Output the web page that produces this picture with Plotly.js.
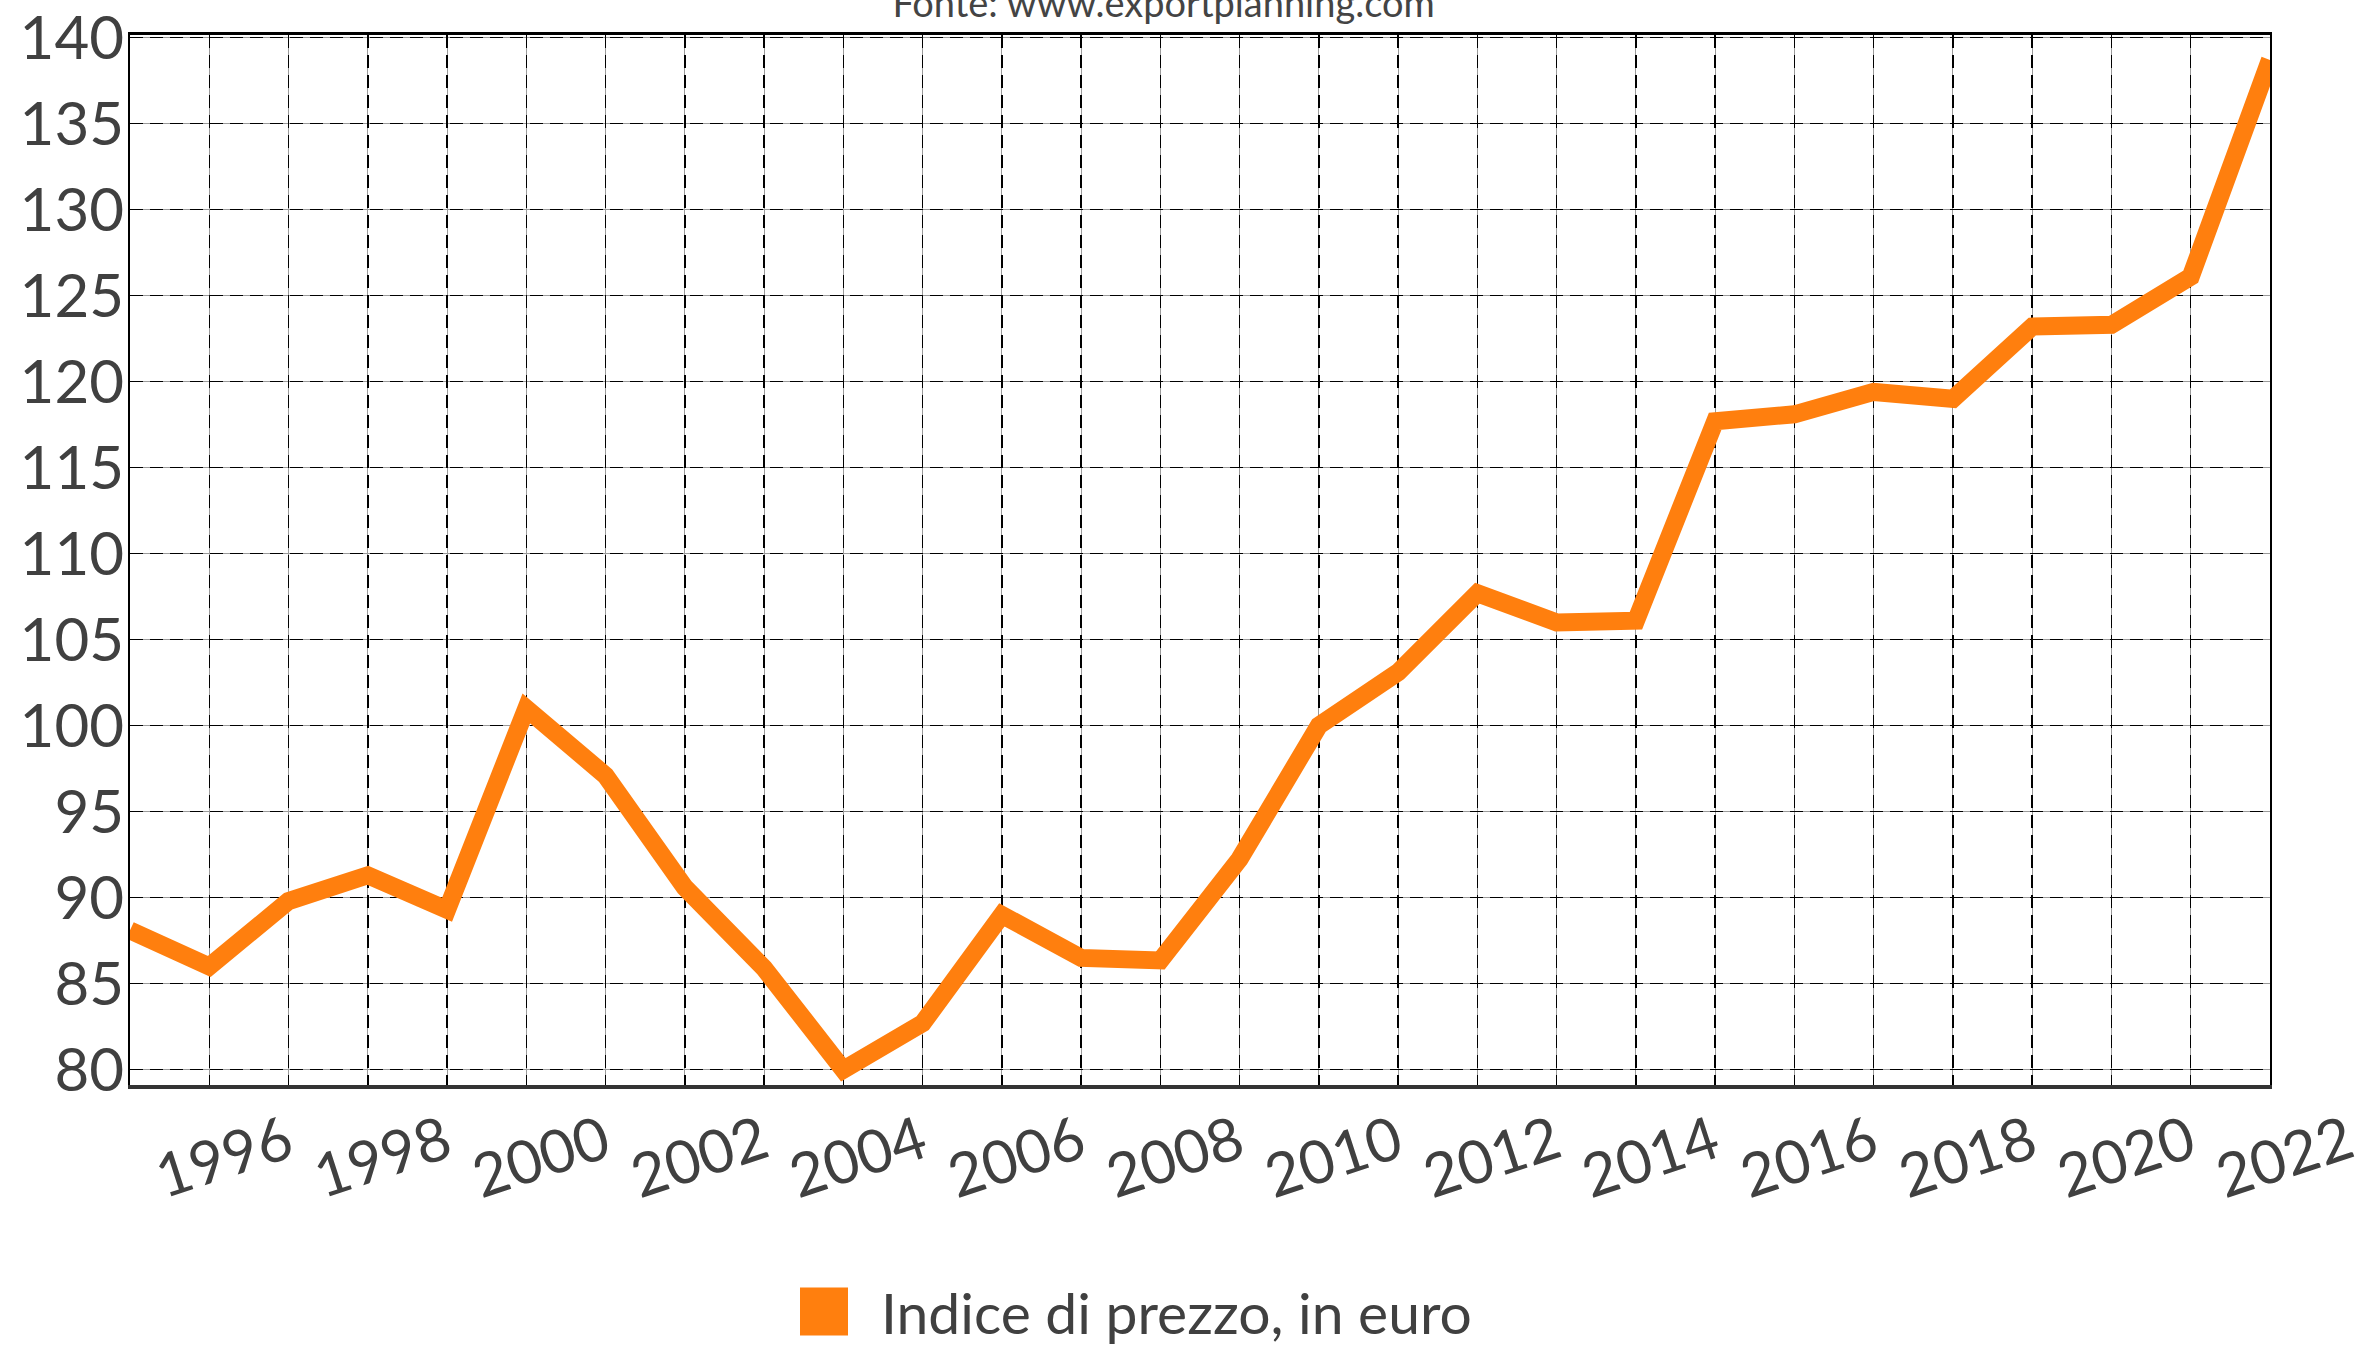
<!DOCTYPE html>
<html>
<head>
<meta charset="utf-8">
<script src="https://cdn.plot.ly/plotly-3.0.1.min.js"></script>
<style>
  html, body { margin: 0; padding: 0; background: #ffffff; }
  #chart { width: 2362px; height: 1345px; }
  .scatterlayer .js-line { stroke-linejoin: miter !important; }
</style>
</head>
<body>
<div id="chart"></div>
<script>
// ---- data ----
const years = [1995, 1996, 1997, 1998, 1999, 2000, 2001, 2002, 2003, 2004, 2005, 2006, 2007, 2008,
               2009, 2010, 2011, 2012, 2013, 2014, 2015, 2016, 2017, 2018, 2019, 2020, 2021, 2022];
const priceIndex = [88.1, 86.0, 89.8, 91.3, 89.3, 101.0, 97.1, 90.6, 85.9, 80.0, 82.7, 89.0, 86.5, 86.35,
                    92.25, 100.0, 103.1, 107.7, 106.0, 106.1, 117.7, 118.1, 119.4, 119.0, 123.2, 123.3, 126.1, 138.7];
const xTickLabels = years.map(y => (y % 2 === 0 ? String(y) : ''));
const yTickValues = [80, 85, 90, 95, 100, 105, 110, 115, 120, 125, 130, 135, 140];
const seriesName = 'Indice di prezzo, in euro';
const sourceNote = 'Fonte: www.exportplanning.com';

// ---- style ----
const ORANGE = '#ff7f0e';
const TEXT = '#404040';
const FONT = 'Lato, "Open Sans", sans-serif';
const xRange = [years[0], years[years.length - 1]];
const yRange = [79.11, 140.15];

const traces = [
  {
    type: 'scatter', mode: 'lines',
    x: years, y: priceIndex,
    name: seriesName,
    line: { color: ORANGE, width: 18 },
    showlegend: false,
    hoverinfo: 'skip'
  },
  {
    // legend entry (square swatch)
    type: 'scatter', mode: 'markers',
    x: [null], y: [null],
    xaxis: 'x2', yaxis: 'y2',
    name: seriesName,
    marker: { symbol: 'square', size: 16, color: ORANGE },
    showlegend: true,
    hoverinfo: 'skip'
  }
];

const layout = {
  width: 2362, height: 1345,
  paper_bgcolor: '#ffffff', plot_bgcolor: '#ffffff',
  margin: { l: 130, r: 92, t: 35, b: 260 },
  font: { family: FONT, color: TEXT },
  title: {
    text: sourceNote,
    font: { family: FONT, size: 38, color: '#444444' },
    x: 0.483, xref: 'paper', xanchor: 'center',
    y: 0.997, yref: 'container', yanchor: 'middle'
  },
  xaxis: {
    range: xRange, tickvals: years, ticktext: xTickLabels,
    tickangle: -18,
    tickfont: { family: FONT, size: 60, color: TEXT },
    ticks: '', showgrid: true, gridcolor: '#9a9a9a', gridwidth: 1,
    showline: true, linecolor: '#333333', linewidth: 4,
    zeroline: false, fixedrange: true,
    ticklabelshift: 78, ticklabelstandoff: -4,
    ticklabeloverflow: 'allow'
  },
  yaxis: {
    range: yRange, tickvals: yTickValues,
    tickfont: { family: FONT, size: 60, color: TEXT },
    ticks: '', showgrid: true, gridcolor: '#9a9a9a', gridwidth: 1,
    showline: true, linecolor: '#000000', linewidth: 2,
    zeroline: false, fixedrange: true,
    ticklabelstandoff: -8,
    ticklabeloverflow: 'allow'
  },
  xaxis2: {
    overlaying: 'x', side: 'top', anchor: 'y2',
    range: xRange, tickvals: years, showticklabels: false,
    ticks: '', showgrid: true, gridcolor: '#000000', gridwidth: 1.5, griddash: '13px,7px',
    showline: true, linecolor: '#000000', linewidth: 3,
    zeroline: false, fixedrange: true
  },
  yaxis2: {
    overlaying: 'y', side: 'right', anchor: 'x2',
    range: yRange, tickvals: yTickValues, showticklabels: false,
    ticks: '', showgrid: true, gridcolor: '#000000', gridwidth: 1.5, griddash: '13px,7px',
    showline: true, linecolor: '#000000', linewidth: 2,
    zeroline: false, fixedrange: true
  },
  showlegend: true,
  legend: {
    orientation: 'h',
    xref: 'container', yref: 'container',
    x: 767 / 2362, xanchor: 'left',
    y: (1345 - 1312) / 1345, yanchor: 'middle',
    font: { family: FONT, size: 57, color: TEXT },
    itemwidth: 104,
    bgcolor: 'rgba(0,0,0,0)'
  }
};

Plotly.newPlot('chart', traces, layout, { displayModeBar: false, staticPlot: true }).then(() => {
  document.querySelectorAll('.legend .legendpoints path.scatterpts').forEach(p => {
    const t = p.getAttribute('transform') || '';
    p.setAttribute('transform', t + ' scale(3)');
  });
});
</script>
</body>
</html>
